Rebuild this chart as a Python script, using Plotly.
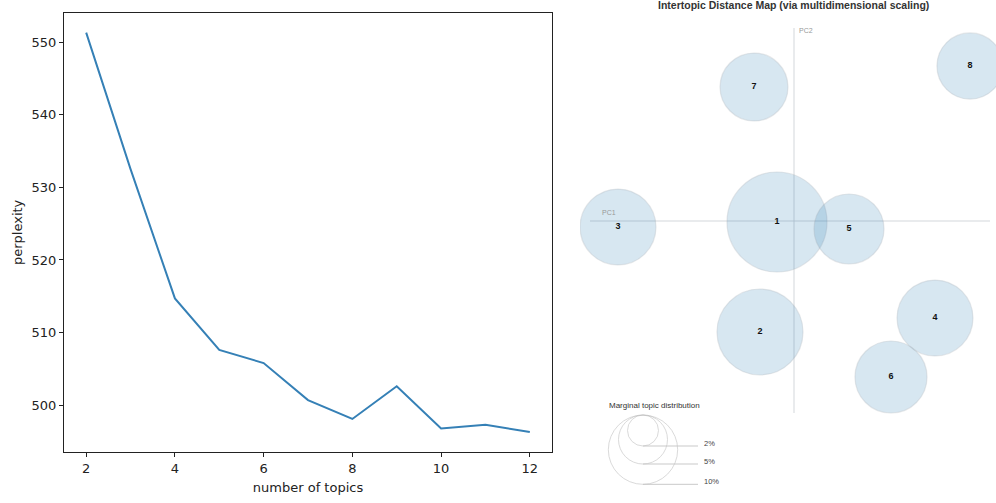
import plotly.graph_objects as go
import numpy as np

# ---------------- data ----------------
num_topics = [2, 3, 4, 5, 6, 7, 8, 9, 10, 11, 12]
perplexity = [551.3, 532.5, 514.7, 507.6, 505.8, 500.7, 498.1, 502.6, 496.8, 497.3, 496.3]

topic_ids = ["1", "2", "3", "4", "5", "6", "7", "8"]
topic_pc1 = [-0.017, -0.034, -0.176, 0.141, 0.055, 0.097, -0.040, 0.176]
topic_pc2 = [-0.001, -0.111, -0.006, -0.097, -0.008, -0.156, 0.134, 0.155]
topic_share = [20.8, 15.4, 12.0, 12.0, 10.2, 10.8, 9.6, 9.1]   # marginal topic distribution, %

legend_pcts = [2, 5, 10]
legend_labels = ["2%", "5%", "10%"]

# ---------------- layout constants ----------------
W, H = 996, 503
PX_PER_SQRT_PCT = 10.96          # circle radius (px) per sqrt(percent)
UNIT_PER_PX = 0.001               # right panel: data units per pixel

fig = go.Figure()

# Left: perplexity curve
fig.add_trace(go.Scatter(
    x=num_topics, y=perplexity, mode="lines",
    line=dict(color="#3580b6", width=2),
    xaxis="x", yaxis="y", showlegend=False, hoverinfo="x+y"))

# Right: topic circles
radii = [PX_PER_SQRT_PCT * np.sqrt(s) for s in topic_share]
fig.add_trace(go.Scatter(
    x=topic_pc1, y=topic_pc2, mode="markers+text",
    text=["<b>%s</b>" % t for t in topic_ids], textposition="middle center",
    textfont=dict(family="Liberation Sans", size=9, color="#111"),
    marker=dict(size=[2 * r for r in radii], color="rgba(31,119,180,0.25)",
                line=dict(color="rgba(150,160,170,0.35)", width=1.2)),
    xaxis="x2", yaxis="y2", showlegend=False, hoverinfo="text"))

# Legend circles (top-aligned)
leg_cx = -0.151
leg_top = -0.194
leg_r = [PX_PER_SQRT_PCT * np.sqrt(p) for p in legend_pcts]
leg_cy = [leg_top - r * UNIT_PER_PX for r in leg_r]
fig.add_trace(go.Scatter(
    x=[leg_cx] * len(legend_pcts), y=leg_cy, mode="markers",
    marker=dict(size=[2 * r for r in leg_r], color="rgba(0,0,0,0)",
                line=dict(color="rgba(190,190,190,0.8)", width=1)),
    xaxis="x2", yaxis="y2", showlegend=False, hoverinfo="skip"))

shapes = []
annotations = []
# PC axes lines
shapes.append(dict(type="line", xref="x2", yref="y2", x0=-0.204, x1=0.196, y0=0, y1=0,
                   line=dict(color="rgba(200,205,210,0.8)", width=1), layer="below"))
shapes.append(dict(type="line", xref="x2", yref="y2", x0=0, x1=0, y0=0.193, y1=-0.192,
                   line=dict(color="rgba(200,205,210,0.8)", width=1), layer="below"))
annotations.append(dict(text="PC1", x=-0.194, y=0.003, xref="x2", yref="y2",
                        showarrow=False, xanchor="left", yanchor="bottom",
                        font=dict(family="Liberation Sans", size=7, color="#999")))
annotations.append(dict(text="PC2", x=0.003, y=0.19, xref="x2", yref="y2",
                        showarrow=False, xanchor="left", yanchor="middle",
                        font=dict(family="Liberation Sans", size=7, color="#999")))

# Legend lines and labels
for r, cy, lab in zip(leg_r, leg_cy, legend_labels):
    by = cy - r * UNIT_PER_PX
    shapes.append(dict(type="line", xref="x2", yref="y2", x0=leg_cx, x1=leg_cx + 0.055,
                       y0=by, y1=by, line=dict(color="rgba(195,195,195,0.9)", width=1)))
    annotations.append(dict(text=lab, x=leg_cx + 0.059, y=by + 0.003, xref="x2", yref="y2",
                            showarrow=False, xanchor="left", yanchor="middle",
                            font=dict(family="Liberation Sans", size=7.5, color="#444")))
annotations.append(dict(text="Marginal topic distribution", x=-0.187, y=-0.184,
                        xref="x2", yref="y2", showarrow=False, xanchor="left",
                        yanchor="middle",
                        font=dict(family="Liberation Sans", size=8, color="#333")))

# Right title
annotations.append(dict(text="<b>Intertopic Distance Map (via multidimensional scaling)</b>",
                        x=793 / W, y=1 - 5 / H, xref="paper", yref="paper",
                        showarrow=False, xanchor="center", yanchor="middle",
                        font=dict(family="Liberation Sans", size=10.5, color="#333")))

axis_font = dict(family="DejaVu Sans", size=13, color="#222")
fig.update_layout(
    width=W, height=H, autosize=False,
    margin=dict(l=0, r=0, t=0, b=0, pad=0),
    paper_bgcolor="white", plot_bgcolor="white",
    xaxis=dict(domain=[64 / W, 552 / W], range=[1.5, 12.5],
               tickvals=[2, 4, 6, 8, 10, 12], ticks="outside", ticklen=4,
               tickcolor="#222", showline=True, linecolor="#222", linewidth=1,
               mirror=True, showgrid=False, zeroline=False, tickfont=axis_font,
               title=dict(text="number of topics", font=axis_font, standoff=8),
               anchor="y"),
    yaxis=dict(domain=[1 - 452 / H, 1 - 12.7 / H], range=[493.55, 554.05],
               tickvals=[500, 510, 520, 530, 540, 550], ticks="outside", ticklen=4,
               tickcolor="#222", showline=True, linecolor="#222", linewidth=1,
               mirror=True, showgrid=False, zeroline=False, tickfont=axis_font,
               title=dict(text="perplexity", font=axis_font, standoff=6),
               anchor="x"),
    xaxis2=dict(domain=[580 / W, 1.0], range=[(580 - 794) * UNIT_PER_PX, (996 - 794) * UNIT_PER_PX],
                visible=False, anchor="y2"),
    yaxis2=dict(domain=[0.0, 1 - 20 / H], range=[(221 - 503) * UNIT_PER_PX, (221 - 20) * UNIT_PER_PX],
                visible=False, anchor="x2"),
    shapes=shapes, annotations=annotations,
)

fig.write_html("out.html", config={"displayModeBar": False},
               post_script="document.body.style.margin='0';document.body.style.overflow='hidden';")
